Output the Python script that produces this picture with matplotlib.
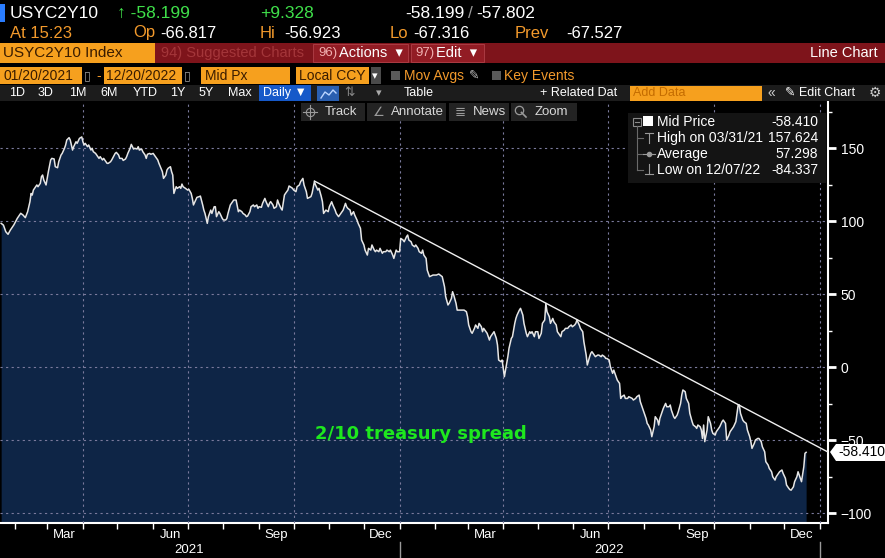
import pandas as pd
import matplotlib
matplotlib.use("Agg")
import matplotlib.pyplot as plt
import matplotlib.dates as mdates
import matplotlib.transforms as mtrans
from matplotlib.patches import Rectangle, Polygon
from matplotlib.lines import Line2D

plt.rcParams['font.family'] = ['Liberation Sans', 'DejaVu Sans']

# USYC2Y10 mid price, days counted from 2021-01-20
START = pd.Timestamp("2021-01-20")
day_offset = [
    0, 2, 4, 6, 8, 11, 14, 17, 19, 21, 23, 25, 26, 27, 28, 31, 32, 34, 35, 36,
    37, 39, 40, 41, 43, 44, 46, 47, 49, 50, 52, 53, 55, 56, 57, 59, 60, 62, 63, 65,
    66, 68, 69, 70, 71, 72, 73, 75, 76, 78, 79, 80, 82, 83, 85, 86, 88, 89, 92, 93,
    95, 96, 98, 99, 100, 102, 103, 105, 106, 108, 109, 110, 112, 113, 114, 115, 116, 118, 119, 120,
    122, 123, 125, 126, 127, 129, 130, 132, 133, 135, 136, 137, 140, 141, 143, 144, 145, 147, 148, 149,
    150, 152, 153, 155, 156, 157, 158, 160, 162, 163, 165, 166, 167, 169, 170, 172, 173, 175, 176, 177,
    179, 180, 182, 183, 185, 186, 187, 189, 190, 192, 193, 195, 196, 197, 199, 200, 202, 203, 204, 206,
    207, 209, 210, 212, 213, 214, 216, 217, 219, 220, 222, 223, 224, 226, 227, 229, 230, 232, 233, 234,
    236, 237, 239, 240, 241, 243, 244, 246, 247, 249, 250, 251, 253, 254, 256, 257, 259, 260, 262, 263,
    265, 266, 269, 270, 272, 273, 275, 276, 278, 279, 280, 281, 282, 284, 285, 287, 288, 290, 291, 293,
    294, 296, 297, 299, 300, 301, 303, 304, 306, 307, 309, 310, 312, 313, 315, 316, 318, 319, 321, 322,
    324, 325, 326, 328, 329, 331, 332, 334, 335, 337, 338, 340, 341, 343, 344, 346, 347, 349, 350, 352,
    353, 354, 356, 357, 359, 360, 362, 363, 365, 366, 367, 369, 370, 372, 375, 378, 380, 383, 385, 386,
    388, 389, 391, 392, 393, 395, 396, 398, 401, 402, 404, 405, 406, 408, 409, 411, 412, 414, 415, 417,
    418, 419, 421, 422, 424, 425, 427, 428, 430, 431, 432, 434, 435, 437, 438, 440, 441, 443, 444, 446,
    447, 448, 450, 451, 453, 454, 456, 457, 459, 460, 461, 463, 464, 466, 467, 469, 470, 472, 473, 474,
    476, 477, 479, 480, 482, 483, 485, 486, 487, 489, 490, 492, 493, 495, 496, 498, 499, 500, 502, 503,
    505, 506, 508, 509, 511, 512, 513, 515, 516, 518, 519, 521, 522, 524, 525, 526, 528, 529, 531, 532,
    534, 535, 537, 538, 539, 541, 542, 544, 545, 548, 549, 551, 552, 554, 555, 557, 558, 560, 561, 562,
    564, 565, 567, 568, 570, 571, 572, 574, 575, 577, 578, 580, 581, 582, 584, 585, 587, 588, 590, 591,
    592, 594, 595, 597, 598, 600, 601, 603, 604, 605, 607, 608, 609, 610, 611, 613, 614, 616, 617, 618,
    620, 621, 623, 624, 626, 627, 629, 630, 632, 633, 635, 636, 638, 639, 640, 641, 642, 644, 645, 647,
    648, 650, 651, 652, 654, 655, 657, 658, 660, 661, 663, 664, 666, 667, 669, 670, 672, 673, 675, 676,
    678, 679, 681, 682, 684, 685, 686, 688, 689, 691, 692, 694, 695, 697, 698, 699,
]
spread = [
    98.4, 97.2, 92.7, 90.9, 93.8, 97.3, 101.8, 105.3, 104.1, 102.3, 106.4, 113.2, 118.9, 117.8, 121.2, 124.7, 123.5, 125.8, 130.4, 131.5,
    128.1, 124.7, 129.2, 133.8, 141.8, 142.9, 142.5, 137.2, 136.5, 140.6, 145.2, 146.3, 149.8, 152.1, 155.5, 157.1, 155.5, 148.6, 150.9, 154.3,
    153.2, 156.6, 157.1, 157.6, 154.3, 152.1, 153.2, 150.9, 152.1, 148.6, 149.8, 147.5, 146.3, 145.2, 142.9, 144.1, 141.8, 142.9, 139.5, 139.5,
    140.6, 141.8, 144.7, 146.3, 147.0, 145.2, 142.9, 142.9, 141.5, 142.5, 144.1, 146.3, 149.8, 152.5, 150.9, 149.3, 149.8, 149.3, 150.9, 148.6,
    149.3, 147.5, 145.2, 142.9, 145.7, 146.3, 145.7, 146.3, 145.2, 142.9, 141.8, 139.5, 133.8, 129.2, 131.5, 134.9, 136.1, 137.2, 133.8, 131.5,
    118.9, 123.5, 122.4, 123.5, 122.4, 125.3, 123.5, 122.4, 121.2, 121.7, 118.9, 115.5, 111.0, 114.4, 116.2, 116.7, 117.1, 111.0, 107.5, 105.2,
    98.4, 103.0, 107.5, 105.2, 109.8, 109.8, 103.0, 106.4, 105.2, 101.8, 100.7, 100.7, 101.8, 105.2, 111.0, 112.1, 114.4, 114.4, 114.4, 106.4,
    107.5, 106.4, 105.2, 104.1, 103.0, 103.4, 106.4, 109.8, 111.0, 109.8, 111.0, 108.7, 109.8, 109.4, 112.1, 115.5, 113.3, 109.8, 112.1, 113.3,
    111.0, 108.7, 109.8, 114.4, 112.1, 108.7, 107.5, 117.8, 119.0, 121.2, 124.0, 123.5, 122.4, 121.2, 120.1, 123.5, 124.7, 126.9, 129.2, 124.7,
    120.1, 115.5, 116.7, 119.0, 126.9, 124.7, 121.2, 122.4, 116.7, 113.2, 105.2, 106.4, 107.5, 106.4, 109.8, 113.2, 111.0, 107.5, 105.2, 103.0,
    104.1, 106.4, 107.5, 112.1, 109.8, 108.7, 107.5, 104.1, 106.4, 104.1, 100.7, 98.4, 95.0, 87.0, 83.6, 80.1, 76.7, 81.3, 80.1, 83.6,
    80.1, 79.0, 80.1, 79.0, 81.3, 77.9, 79.0, 79.0, 80.1, 79.0, 80.1, 76.7, 74.4, 80.1, 79.0, 79.0, 88.1, 87.0, 85.8, 89.3,
    90.4, 87.0, 85.8, 83.6, 82.4, 83.6, 81.3, 79.0, 77.9, 80.1, 76.7, 74.4, 66.4, 61.9, 63.0, 63.0, 63.7, 61.9, 55.0, 48.2,
    42.5, 43.6, 47.0, 51.6, 49.3, 43.6, 39.0, 39.0, 39.0, 39.0, 37.9, 34.5, 28.8, 24.2, 23.1, 26.5, 28.8, 26.5, 29.9, 27.6,
    24.2, 26.5, 24.2, 23.1, 18.5, 20.8, 23.1, 24.2, 19.6, 15.1, 4.8, 3.7, 4.8, -6.6, -2.1, 7.1, 12.8, 19.6, 20.8, 29.9,
    33.3, 35.6, 39.0, 40.2, 35.6, 29.9, 23.1, 20.8, 24.2, 23.1, 24.2, 20.8, 24.2, 24.2, 19.6, 23.1, 29.9, 32.2, 43.6, 37.9,
    34.5, 29.9, 33.3, 31.0, 28.8, 24.2, 21.9, 20.8, 24.2, 25.3, 26.5, 26.5, 27.6, 28.8, 27.6, 28.8, 29.9, 32.2, 28.8, 26.5,
    24.2, 17.4, 8.2, 1.4, 7.1, 9.4, 10.5, 8.2, 7.1, 8.2, 8.2, 7.1, 8.2, 7.1, 5.9, 5.9, 4.8, 0.2, -4.3, -2.1,
    -6.6, -8.9, -11.2, -21.5, -20.3, -19.2, -21.5, -21.5, -20.3, -21.5, -22.6, -21.5, -20.3, -19.2, -23.7, -28.3, -30.6, -35.2, -38.6, -39.7,
    -43.1, -47.7, -40.9, -34.0, -36.3, -39.7, -35.2, -30.6, -28.3, -24.9, -27.2, -27.2, -26.0, -29.5, -34.0, -35.2, -32.9, -30.6, -24.9, -19.2,
    -15.7, -16.9, -21.5, -24.9, -31.7, -37.4, -39.7, -40.9, -42.0, -39.7, -40.9, -43.1, -48.9, -39.7, -51.1, -43.1, -34.0, -38.6, -43.1, -45.4,
    -46.6, -44.3, -42.0, -40.9, -37.4, -36.3, -38.6, -50.0, -46.6, -44.3, -42.0, -40.9, -37.4, -31.7, -26.0, -26.0, -31.7, -36.3, -37.4, -38.6,
    -43.1, -47.7, -51.1, -55.7, -52.3, -50.0, -48.9, -48.9, -51.1, -54.6, -58.0, -64.8, -67.1, -69.4, -71.7, -75.1, -77.4, -75.1, -72.8, -71.7,
    -70.5, -72.8, -76.2, -80.8, -83.1, -84.0, -84.3, -82.0, -78.5, -75.1, -71.7, -76.2, -78.5, -68.3, -59.1, -58.4,
]

# hand drawn resistance line
trend_dates = ["2021-10-19", "2023-01-08"]
trend_values = [127.4, -58.2]

y_ticks = [-100, -50, 0, 50, 100, 150]
month_labels = ["Mar", "Jun", "Sep", "Dec"]
years = [2021, 2022]

legend_rows = [
    ("Mid Price", "-58.410"),
    ("High on 03/31/21", "157.624"),
    ("Average", "57.298"),
    ("Low on 12/07/22", "-84.337"),
]

ORANGE = "#f6a01e"
ORANGE_TXT = "#f39a2c"
BOX_TXT = "#3a1c00"
GREEN = "#3fe04a"
W, H = 885, 558


def box(x, y, w, h, color, **kw):
    fig.patches.append(Rectangle((x / W, 1 - (y + h) / H), w / W, h / H,
                                 transform=fig.transFigure, facecolor=color, **kw))


def label(x, y, s, color="white", size=10, **kw):
    fig.text(x / W, 1 - y / H, s, color=color, fontsize=size, va="center", **kw)


def seg(xs, ys, color, lw=0.8, **kw):
    fig.lines.append(Line2D([x / W for x in xs], [1 - y / H for y in ys],
                            transform=fig.transFigure, color=color, lw=lw, **kw))


fig = plt.figure(figsize=(W / 100, H / 100), dpi=100, facecolor="black")
ax = fig.add_axes([0, 1 - 523 / H, 828 / W, 422 / H], facecolor="black")

dates = START + pd.to_timedelta(day_offset, unit="D")
y_bottom = -106.8
ax.fill_between(dates, spread, y_bottom, color="#0e2546", lw=0, zorder=1)
ax.plot(dates, spread, color="#e6e6e6", lw=1.1, zorder=3)
ax.plot(pd.to_datetime(trend_dates), trend_values, color="#f0f0f0", lw=1.0, zorder=3)

ax.set_xlim(pd.Timestamp("2021-01-19"), pd.Timestamp("2023-01-08"))
ax.set_ylim(y_bottom, 182.2)

ax.xaxis.set_major_locator(mdates.MonthLocator(bymonth=[1, 4, 7, 10]))
ax.xaxis.set_minor_locator(mdates.MonthLocator())
ax.xaxis.set_major_formatter(plt.NullFormatter())
ax.tick_params(axis="x", which="both", colors="white", length=4, width=1)
ax.yaxis.tick_right()
ax.set_yticks(y_ticks)
ax.set_yticks(range(-100, 176, 25), minor=True)
ax.tick_params(axis="y", which="major", colors="white", labelcolor="white",
               length=6, width=2, labelsize=10, pad=3)
ax.tick_params(axis="y", which="minor", colors="white", length=3, width=1)
ax.grid(which="major", color="#7a7a9c", linestyle=(0, (2, 3)), lw=0.8)
ax.set_axisbelow(False)
for side in ["top", "left"]:
    ax.spines[side].set_visible(False)
for side in ["right", "bottom"]:
    ax.spines[side].set_color("white")
    ax.spines[side].set_linewidth(1.5)

# month / year labels under the axis
trans = mtrans.blended_transform_factory(ax.transData, ax.transAxes)
for yr in years:
    for i, m in enumerate(month_labels):
        d = pd.Timestamp(yr, 3 + 3 * i, 16)
        ax.text(d, -0.028, m, transform=trans, color="white", fontsize=9.5,
                ha="center", va="center", clip_on=False)
    mid = pd.Timestamp(yr, 7, 2)
    ax.text(mid, -0.065, str(yr), transform=trans, color="white", fontsize=9.5,
            ha="center", va="center", clip_on=False)
    ax.plot([pd.Timestamp(yr + 1, 1, 1)] * 2, [-0.045, -0.09], transform=trans,
            color="#9a9a9a", lw=1, clip_on=False)

ax.text(0.38, 0.198, "2/10 treasury spread", transform=ax.transAxes, color="#1ee81e",
        fontsize=13, fontweight="bold", family=["DejaVu Sans"])

# ---- header rows ----
box(0, 4, 5, 18, "#2a7dff")
label(10, 13, "USYC2Y10", size=12.5)
label(117, 13, "↑ -58.199", GREEN, 12.5)
label(260, 13, "+9.328", GREEN, 12.5)
label(405, 13, "-58.199", size=12.5)
label(468, 13, "/", "#9a9a9a", 12.5)
label(476, 13, "-57.802", size=12.5)

label(10, 33, "At 15:23", ORANGE_TXT, 12)
label(133, 33, "Op", ORANGE_TXT, 12)
label(160, 33, "-66.817", size=12)
label(260, 33, "Hi", ORANGE_TXT, 12)
label(284, 33, "-56.923", size=12)
label(390, 33, "Lo", ORANGE_TXT, 12)
label(413, 33, "-67.316", size=12)
label(515, 33, "Prev", ORANGE_TXT, 12)
label(566, 33, "-67.527", size=12)

box(0, 43, 155, 20, ORANGE)
label(3, 53, "USYC2Y10 Index", BOX_TXT, 11)
box(155, 43, 730, 20, "#7e141b")
label(161, 53, "94) Suggested Charts", "#a4363a", 10.5)
box(313, 44, 95, 18, "#921c24", edgecolor="#b04048", lw=0.6)
label(318, 53, "96)", "#f0b0b0", 9.5)
label(339, 53, "Actions  ▾", size=10.5)
box(411, 44, 73, 18, "#921c24", edgecolor="#b04048", lw=0.6)
label(415, 53, "97)", "#f0b0b0", 9.5)
label(436, 53, "Edit  ▾", size=10.5)
label(878, 53, "Line Chart", size=10.5, ha="right")

box(0, 67, 82, 17, ORANGE)
label(3, 76, "01/20/2021", BOX_TXT, 10)
label(84, 76, "▯", "#9a9a9a", 9)
label(96, 76, "-", ORANGE_TXT, 10)
box(104, 67, 78, 17, ORANGE)
label(106, 76, "12/20/2022", BOX_TXT, 10)
label(184, 76, "▯", "#9a9a9a", 9)
box(201, 67, 89, 17, ORANGE)
label(205, 76, "Mid Px", BOX_TXT, 10)
box(296, 67, 73, 17, ORANGE)
label(299, 76, "Local CCY", BOX_TXT, 10)
box(371, 67, 10, 17, "#4a4a4a")
label(372, 76, "▾", "white", 8)
box(391, 71, 9, 9, "#5a5a5a")
label(404, 76, "Mov Avgs", ORANGE_TXT, 10)
label(469, 76, "✎", "#bbbbbb", 9)
box(492, 71, 9, 9, "#5a5a5a")
label(504, 76, "Key Events", ORANGE_TXT, 10)

box(0, 85, 885, 16, "#1c1c1c")
for x, s in [(9, "1D"), (38, "3D"), (69, "1M"), (100, "6M"), (133, "YTD"),
             (170, "1Y"), (199, "5Y"), (228, "Max")]:
    label(x, 93, s, size=9)
box(259, 85, 52, 16, "#1659c9")
label(263, 93, "Daily ▼", size=9)
box(317, 86, 22, 15, "#2a5fb0")
seg([321, 325, 329, 333, 336], [98, 92, 95, 90, 93], "#bcd6ff", lw=1)
label(344, 93, "⇅", "#888888", 9)
label(376, 93, "▾", "#aaaaaa", 8)
label(404, 93, "Table", size=9)
label(540, 93, "+ Related Dat", size=9)
box(630, 86, 132, 15, ORANGE)
label(633, 93, "Add Data", "#c46c00", 9)
label(767, 93, "«", "#cccccc", 10)
label(785, 93, "✎ Edit Chart", size=9)
label(869, 93, "⚙", "#cccccc", 10)

# chart toolbar
for x, w, s in [(301, 64, "Track"), (367, 79, "Annotate"),
                (449, 60, "News"), (511, 66, "Zoom")]:
    box(x, 103, w, 18, "#232323")
    label(x + 24, 112, s, "#d8d8d8", 9.5)
# track crosshair, annotate, news and zoom glyphs
fig.lines.append(Line2D([310 / W], [1 - 112 / H], marker="o", ms=6, mfc="none",
                        mec="#9a9a9a", mew=0.8, transform=fig.transFigure))
seg([303, 317], [112, 112], "#9a9a9a")
seg([310, 310], [105, 119], "#9a9a9a")
label(373, 112, "∠", "#9a9a9a", 9.5, family=["DejaVu Sans"])
label(455, 112, "≣", "#9a9a9a", 9.5, family=["DejaVu Sans"])
fig.lines.append(Line2D([519 / W], [1 - 110 / H], marker="o", ms=6, mfc="none",
                        mec="#9a9a9a", mew=0.9, transform=fig.transFigure))
seg([521.5, 526], [112.5, 117], "#9a9a9a", lw=1.2)

# legend panel
box(628, 113, 198, 70, "#141414")
for i, (name, val) in enumerate(legend_rows):
    y = 122 + 16 * i
    label(657, y, name, size=10)
    label(818, y, val, size=10, ha="right")
box(633, 118, 8, 8, "none", edgecolor="#8a8a8a", lw=0.8)
seg([635, 639], [122, 122], "#8a8a8a")
box(643, 116, 10, 10, "white")
seg([637, 637], [126, 170], "#6a6a6a")
for y in [138, 154, 170]:
    seg([637, 643], [y, y], "#6a6a6a")
seg([645, 653], [133, 133], "#9a9a9a")
seg([649, 649], [133, 143], "#9a9a9a")
seg([643, 655], [154, 154], "#9a9a9a")
fig.lines.append(Line2D([649 / W], [1 - 154 / H], marker="o", ms=3, color="#9a9a9a",
                        transform=fig.transFigure))
seg([649, 649], [164, 174], "#9a9a9a")
seg([645, 653], [174, 174], "#9a9a9a")

# last price tag on the axis
tag = [(830, 452), (836, 444), (885, 444), (885, 461), (836, 461)]
fig.patches.append(Polygon([(x / W, 1 - y / H) for x, y in tag], closed=True,
                           transform=fig.transFigure, facecolor="white"))
label(838, 452.5, "-58.410", "black", 10)

fig.savefig("out.png", dpi=100, facecolor="black")
